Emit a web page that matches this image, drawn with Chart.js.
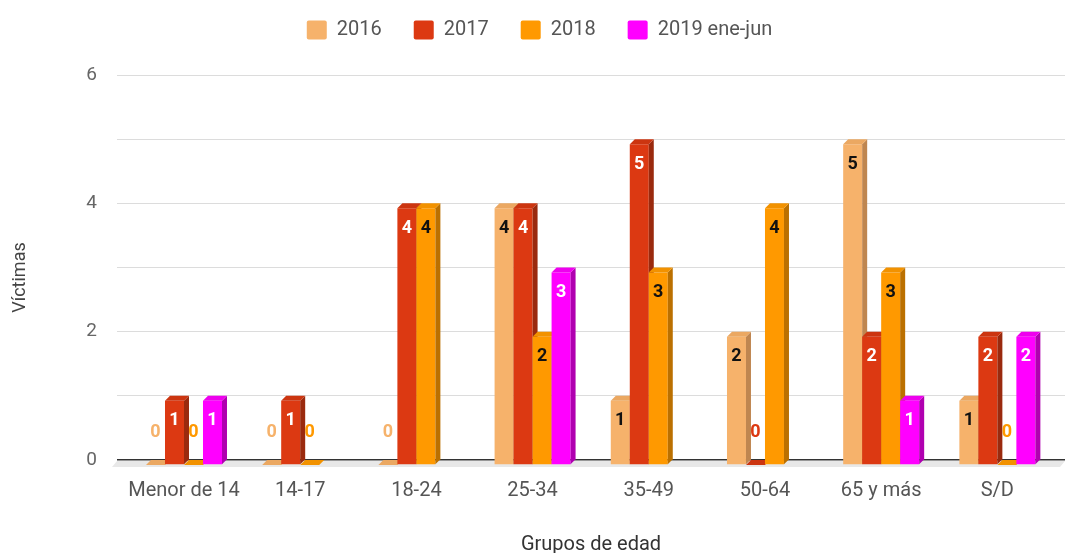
<!DOCTYPE html>
<html><head><meta charset="utf-8">
<script src="https://cdn.jsdelivr.net/npm/chart.js@4.4.0/dist/chart.umd.min.js"></script>
<style>html,body{margin:0;padding:0;background:#fff;} #wrap{width:1065px;height:553px;position:relative;}</style>
</head><body><div id="wrap"><canvas id="c"></canvas></div>
<script>
const categories = ['Menor de 14','14-17','18-24','25-34','35-49','50-64','65 y más','S/D'];
const seriesNames = ['2016','2017','2018','2019 ene-jun'];
const values2016 = [0,0,0,4,1,2,5,1];
const values2017 = [1,1,4,4,5,0,2,2];
const values2018 = [0,0,4,2,3,4,3,0];
const values2019 = [1,null,null,3,null,null,1,2];
const yTickLabels = [0,2,4,6];
const yGridValues = [0,1,2,3,4,5,6];

const colors = ['#F6B26B','#DC3912','#FF9900','#FF00FF'];
const sideColors = ['#BF8650','#9A2A0E','#BB7000','#B000B0'];
const topColors = ['#EBA862','#CC3510','#F29200','#EE00EE'];
const labelColors = ['#111111','#FFFFFF','#111111','#FFFFFF'];
const DX = 5, DY = 5;
const FONT = 'Roboto, "Noto Sans", sans-serif';

const allValues = [values2016, values2017, values2018, values2019];

const bars3d = {
  id: 'bars3d',
  beforeLayout(chart) {
    const lg = chart.legend;
    if (lg && !lg._patched) {
      const f = lg.fit.bind(lg);
      lg.fit = function () { f(); this.height = 75 - chart.options.layout.padding.top; };
      lg._patched = true;
    }
  },
  beforeDatasetsDraw(chart) {
    const ctx = chart.ctx;
    const area = chart.chartArea;
    const y0 = chart.scales.y.getPixelForValue(0);
    ctx.save();
    ctx.fillStyle = '#e8e8e8';
    ctx.beginPath();
    ctx.moveTo(area.left, y0 + 1);
    ctx.lineTo(area.right, y0 + 1);
    ctx.lineTo(area.right - DX, y0 + DY + 2);
    ctx.lineTo(area.left - DX, y0 + DY + 2);
    ctx.closePath();
    ctx.fill();
    ctx.restore();
    const labels = [];
    for (let j = 0; j < categories.length; j++) {
      chart.data.datasets.forEach((ds, i) => {
        const v = allValues[i][j];
        if (v === null || v === undefined) return;
        const el = chart.getDatasetMeta(i).data[j];
        if (!el) return;
        const {x, y, base, width} = el.getProps(['x', 'y', 'base', 'width'], true);
        const l = x - width / 2, r = x + width / 2;
        ctx.save();
        ctx.translate(-DX, DY);
        el.draw(ctx);
        ctx.restore();
        ctx.save();
        ctx.fillStyle = sideColors[i];
        ctx.beginPath();
        ctx.moveTo(r - DX, y + DY);
        ctx.lineTo(r, y);
        ctx.lineTo(r, base);
        ctx.lineTo(r - DX, base + DY);
        ctx.closePath();
        ctx.fill();
        ctx.fillStyle = topColors[i];
        ctx.beginPath();
        ctx.moveTo(l - DX, y + DY);
        ctx.lineTo(l, y);
        ctx.lineTo(r, y);
        ctx.lineTo(r - DX, y + DY);
        ctx.closePath();
        ctx.fill();
        ctx.restore();
        labels.push({v, i, cx: x - DX, cy: v > 0 ? y + DY + 20 : base + DY - 32});
      });
    }
    ctx.save();
    ctx.font = 'bold 18px ' + FONT;
    ctx.textAlign = 'center';
    ctx.textBaseline = 'middle';
    labels.forEach(o => {
      ctx.fillStyle = o.v > 0 ? labelColors[o.i] : colors[o.i];
      ctx.fillText(String(o.v), o.cx, o.cy);
    });
    ctx.restore();
    return false;
  }
};

const datasets = seriesNames.map((name, i) => ({
  label: name,
  data: allValues[i].map((v, k) => ({x: k, y: v})),
  backgroundColor: colors[i],
  borderWidth: 0,
  categoryPercentage: 0.654,
  barPercentage: 1.0
}));

new Chart(document.getElementById('c'), {
  type: 'bar',
  data: {datasets},
  plugins: [bars3d],
  options: {
    responsive: true,
    maintainAspectRatio: false,
    devicePixelRatio: 1,
    animation: false,
    layout: {padding: {left: 14, right: 0, top: -12, bottom: 0}},
    plugins: {
      tooltip: {enabled: false},
      legend: {
        display: true,
        position: 'top',
        labels: {
          boxWidth: 20,
          boxHeight: 19,
          padding: 32,
          color: '#555555',
          font: {family: FONT, size: 20},
          useBorderRadius: true,
          borderRadius: 2
        }
      }
    },
    scales: {
      x: {
        type: 'linear',
        min: -0.6196,
        max: 7.539,
        offset: false,
        afterFit(s) { s.height = 73; },
        afterBuildTicks(s) { s.ticks = categories.map((c, i) => ({value: i})); },
        ticks: {
          autoSkip: false, maxRotation: 0, padding: -1, labelOffset: -5,
          color: '#555555', font: {family: FONT, size: 20},
          callback: v => categories[v] !== undefined ? categories[v] : ''
        },
        grid: {display: false, drawTicks: false},
        border: {display: false},
        title: {display: true, text: 'Grupos de edad', color: '#333333', font: {family: FONT, size: 20}, padding: {top: 0, bottom: -4}}
      },
      y: {
        min: -0.3117,
        max: 6,
        afterFit(s) { s.width = 103; },
        afterBuildTicks(s) { s.ticks = yGridValues.map(v => ({value: v})); },
        ticks: {
          padding: 20, color: '#666666', font: {family: FONT, size: 19},
          callback: v => yTickLabels.includes(v) ? String(v) : ''
        },
        grid: {
          drawTicks: false,
          color: c => (c.tick && c.tick.value === 0) ? '#333333' : '#dcdcdc',
          lineWidth: c => (c.tick && c.tick.value === 0) ? 1.6 : 1
        },
        border: {display: false},
        title: {display: true, text: 'Víctimas', color: '#444444', font: {family: FONT, size: 18}, padding: {top: -4, bottom: 0}}
      }
    }
  }
});
</script>
</body></html>
